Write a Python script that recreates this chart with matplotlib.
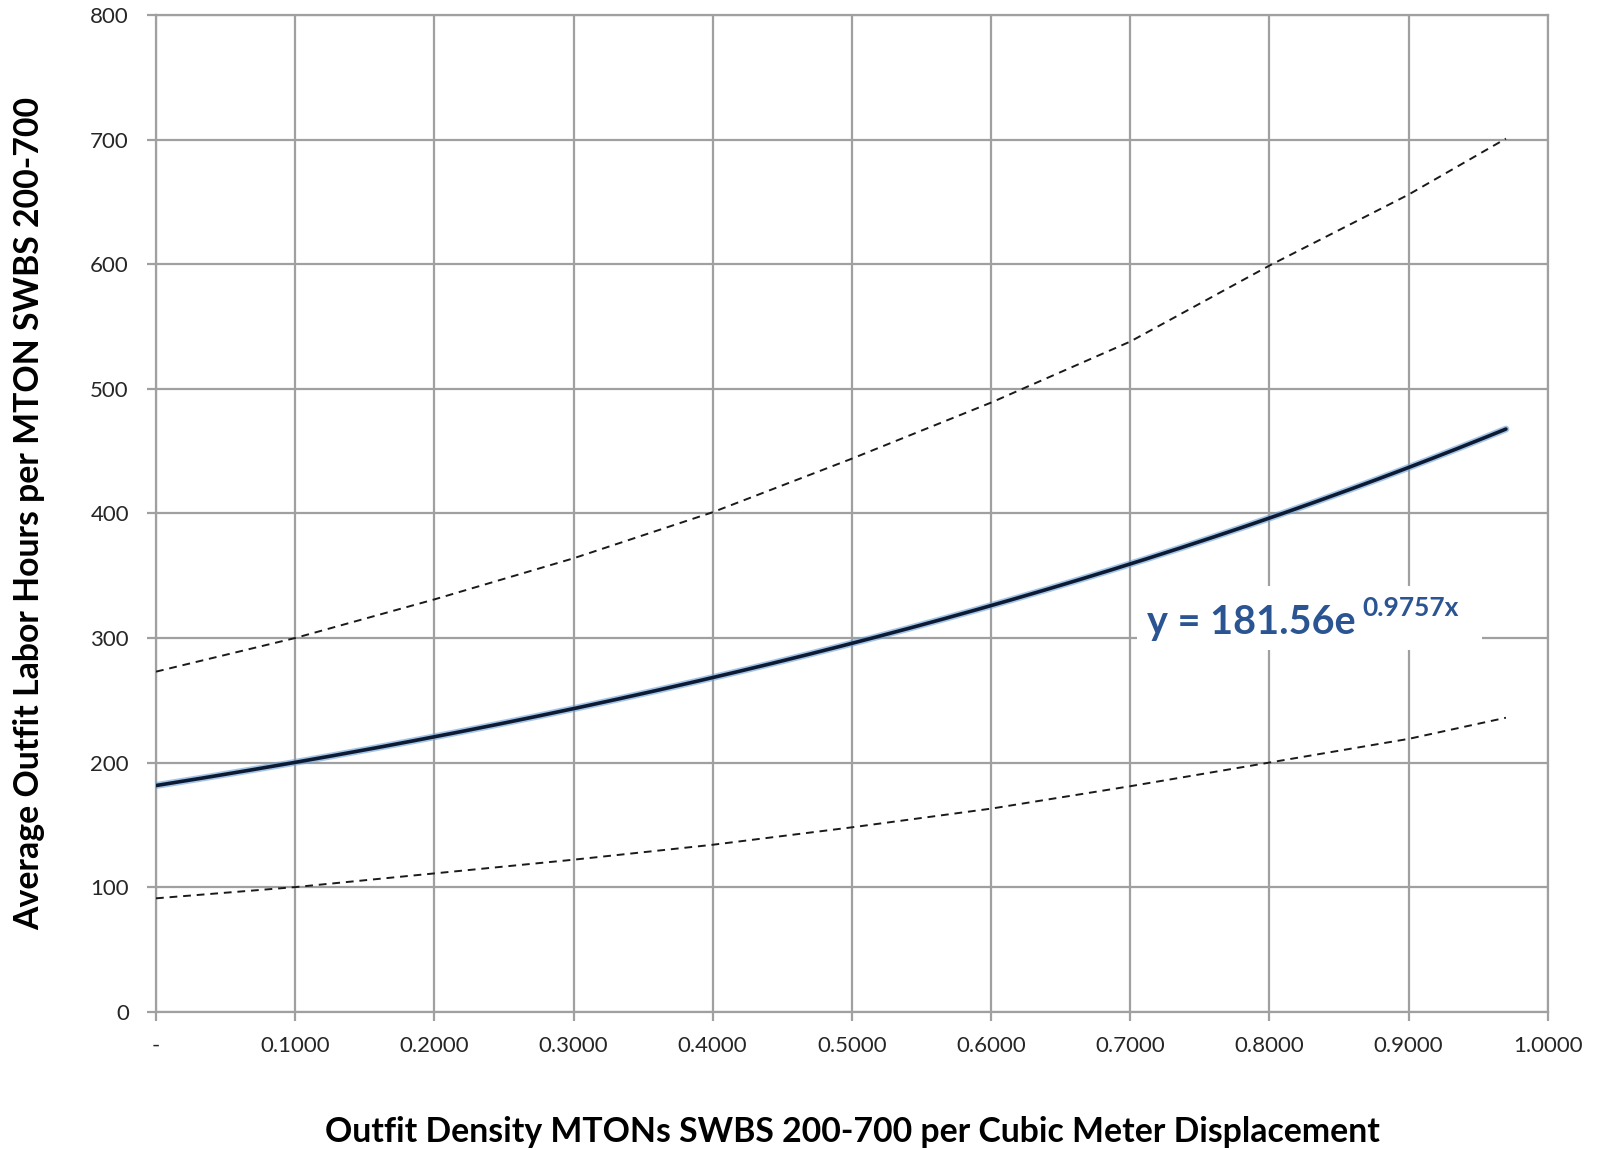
import numpy as np
import matplotlib
matplotlib.use("Agg")
import matplotlib.pyplot as plt
from matplotlib.patches import Rectangle

plt.rcParams['font.family'] = ['Lato', 'DejaVu Sans']

# exponential fit reported on the chart: y = A * e^(B x)
fit_a = 181.56
fit_b = 0.9757
x_end = 0.97

# dashed bounds read at each 0.1 step (last point at x_end)
bound_x = [0.0, 0.1, 0.2, 0.3, 0.4, 0.5, 0.6, 0.7, 0.8, 0.9, 0.97]
upper_y = [273, 300, 331, 364, 401, 444, 489, 538, 599, 656, 701]
lower_y = [91, 100, 111, 122, 134, 148, 163, 181, 200, 219, 236]

x_ticks = [0.0, 0.1, 0.2, 0.3, 0.4, 0.5, 0.6, 0.7, 0.8, 0.9, 1.0]
x_tick_labels = ['-', '0.1000', '0.2000', '0.3000', '0.4000', '0.5000',
                 '0.6000', '0.7000', '0.8000', '0.9000', '1.0000']
y_ticks = [0, 100, 200, 300, 400, 500, 600, 700, 800]

grid_col = '#a0a0a0'
eq_col = '#2a5592'

fig = plt.figure(figsize=(16, 11.5), dpi=100)
ax = fig.add_axes([0.0975, 0.1203, 0.8698, 0.8664])

ax.set_xlim(0, 1.0)
ax.set_ylim(0, 800)
ax.set_xticks(x_ticks)
ax.set_xticklabels(x_tick_labels)
ax.set_yticks(y_ticks)
ax.grid(True, color=grid_col, linewidth=1.6, zorder=0)
ax.set_axisbelow(True)
for s in ax.spines.values():
    s.set_color(grid_col)
    s.set_linewidth(1.6)
ax.tick_params(axis='both', colors=grid_col, length=6.5, width=1.6,
               labelsize=16, labelcolor='#262626')
ax.tick_params(axis='x', pad=11)
ax.tick_params(axis='y', pad=13)

# fitted curve with soft blue halo
fx = np.linspace(0, x_end, 200)
fy = fit_a * np.exp(fit_b * fx)
ax.plot(fx, fy, color='#6a9fd8', linewidth=5.0, alpha=0.6,
        solid_capstyle='round', zorder=3)
ax.plot(fx, fy, color='#0d1a33', linewidth=2.6, solid_capstyle='round', zorder=4)

ax.plot(bound_x, upper_y, color='#1a1a1a', linewidth=1.4,
        linestyle=(0, (4, 3)), zorder=3)
ax.plot(bound_x, lower_y, color='#1a1a1a', linewidth=1.4,
        linestyle=(0, (4, 3)), zorder=3)

# equation label on a white patch
ax.add_patch(Rectangle((0.705, 290), 0.248, 52, facecolor='white',
                       edgecolor='none', zorder=2))
ax.text(0.712, 303, 'y = 181.56e', fontsize=28.5, fontweight='bold',
        color=eq_col, ha='left', va='baseline', zorder=5)
ax.text(0.867, 318, '0.9757x', fontsize=19, fontweight='bold',
        color=eq_col, ha='left', va='baseline', zorder=5)

fig.text(0.5325, 1 - 1142 / 1150, 'Outfit Density MTONs SWBS 200-700 per Cubic Meter Displacement',
         fontsize=24.3, fontweight='bold', ha='center', va='baseline', color='black')
fig.text(0.0185, 0.5535, 'Average Outfit Labor Hours per MTON SWBS 200-700',
         fontsize=24.3, fontweight='bold', rotation=90, ha='center', va='center',
         color='black')

fig.savefig('out.png', dpi=100, facecolor='white')
